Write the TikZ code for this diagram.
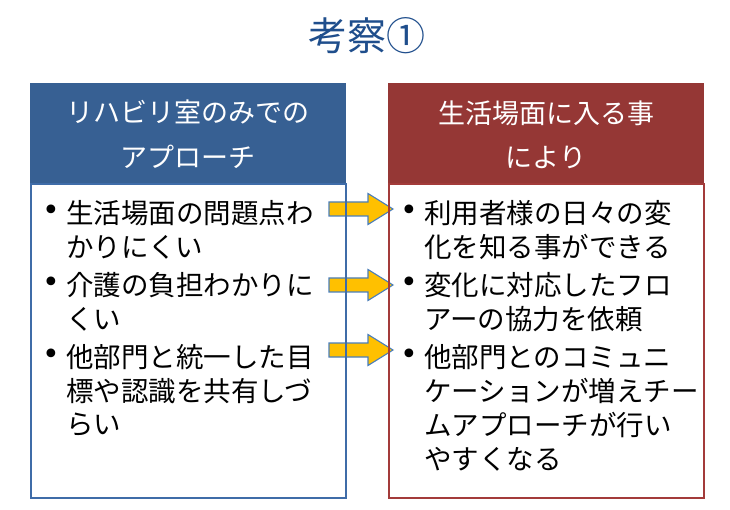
\documentclass[tikz,border=0pt]{standalone}
\usepackage{fontspec}
\setmainfont{Noto Sans CJK JP}
\newfontfamily\symfont{DejaVu Sans}
\definecolor{titleblue}{HTML}{1F4E8C}
\definecolor{lheadfill}{HTML}{376093}
\definecolor{lborder}{HTML}{3F6CA8}
\definecolor{rheadfill}{HTML}{953735}
\definecolor{rborder}{HTML}{A33B3A}
\definecolor{arrowfill}{HTML}{FFC000}
\definecolor{arrowline}{HTML}{4A7EBB}
\begin{document}
\begin{tikzpicture}[x=1pt,y=1pt,
  titletext/.style={font=\fontsize{39}{44}\selectfont, text=titleblue, inner sep=0},
  headbox/.style={minimum width=315, minimum height=100, anchor=north west, inner sep=0, line width=1.2},
  bodybox/.style={minimum width=315, minimum height=314, anchor=north west, inner sep=0, line width=1.8},
  headtext/.style={font=\fontsize{27}{32}\selectfont, text=white, inner sep=0},
  bodytext/.style={font=\fontsize{27.5}{34}\selectfont, anchor=west, inner sep=0},
  bullettext/.style={font=\symfont\fontsize{30}{34}\selectfont, inner sep=0},
  blockarr/.style={fill=arrowfill, draw=arrowline, line width=1.1, line join=miter}
]
\useasboundingbox (0,0) rectangle (730,-510);
\fill[white] (0,0) rectangle (730,-510);

\node[titletext] (title) at (367,-36) {考察①};

% headers
\node[headbox, fill=lheadfill, draw=lheadfill] (lh) at (30,-83) {};
\node[headbox, fill=rheadfill, draw=rheadfill] (rh) at (388,-83) {};
\node[headtext] (lh1) at (187.5,-112) {リハビリ室のみでの};
\node[headtext] (lh2) at (187.5,-157) {アプローチ};
\node[headtext] (rh1) at (546,-113) {生活場面に入る事};
\node[headtext] (rh2) at (546,-157) {により};

% arrows
\foreach \ay in {209,285,350}{
  \draw[blockarr, shift={(0,-\ay)}] (329,7) -- (368,7) -- (368,15.5) -- (393,0)
     -- (368,-15.5) -- (368,-7) -- (329,-7) -- cycle;
}

% body boxes
\node[bodybox, draw=lborder] (lb) at (30,-183) {};
\node[bodybox, draw=rborder] (rb) at (388,-183) {};

% left items
\node[bullettext] (lbul1) at (51,-213) {•};
\node[bodytext] (l11) at (66,-213) {生活場面の問題点わ};
\node[bodytext] (l12) at (66,-247) {かりにくい};
\node[bullettext] (lbul2) at (51,-285) {•};
\node[bodytext] (l21) at (66,-285) {介護の負担わかりに};
\node[bodytext] (l22) at (66,-319) {くい};
\node[bullettext] (lbul3) at (51,-357) {•};
\node[bodytext] (l31) at (66,-357) {他部門と統一した目};
\node[bodytext] (l32) at (66,-391) {標や認識を共有しづ};
\node[bodytext] (l33) at (66,-425) {らい};

% right items
\node[bullettext] (rbul1) at (409,-213) {•};
\node[bodytext] (r11) at (424,-213) {利用者様の日々の変};
\node[bodytext] (r12) at (424,-247) {化を知る事ができる};
\node[bullettext] (rbul2) at (409,-285) {•};
\node[bodytext] (r21) at (424,-285) {変化に対応したフロ};
\node[bodytext] (r22) at (424,-319) {アーの協力を依頼};
\node[bullettext] (rbul3) at (409,-357) {•};
\node[bodytext] (r31) at (424,-357) {他部門とのコミュニ};
\node[bodytext] (r32) at (424,-391) {ケーションが増えチー};
\node[bodytext] (r33) at (424,-425) {ムアプローチが行い};
\node[bodytext] (r34) at (424,-459) {やすくなる};
\end{tikzpicture}
\end{document}
